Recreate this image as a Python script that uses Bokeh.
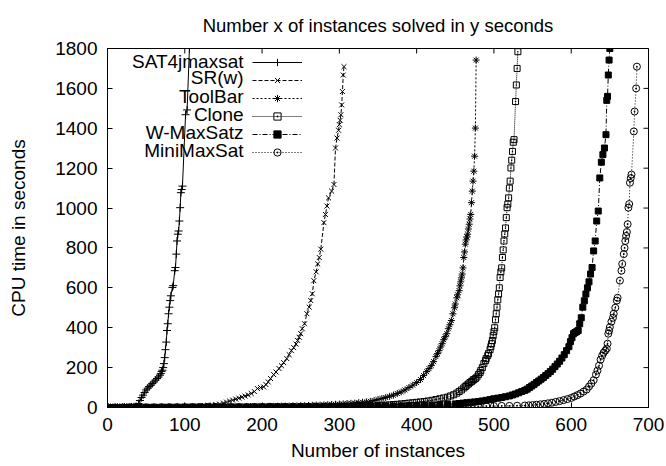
import math
from bokeh.plotting import figure
from bokeh.models import Range1d, FixedTicker, Legend, LegendItem, Label
from bokeh.core.properties import value
from bokeh.embed import file_html
from bokeh.resources import INLINE

# ---------------- data ----------------
series_names = ["SAT4jmaxsat", "SR(w)", "ToolBar", "Clone", "W-MaxSatz", "MiniMaxSat"]

x_ticks = [0, 100, 200, 300, 400, 500, 600, 700]
y_ticks = [0, 200, 400, 600, 800, 1000, 1200, 1400, 1600, 1800]

sat4j_x = [1, 4, 7, 10, 13, 16, 19, 22, 25, 28, 31, 34, 37, 40, 42, 44, 46, 48, 50, 52,
           54, 56, 58, 60, 62, 64, 66, 68, 69, 70, 71, 72, 73, 74, 75, 76, 77, 78, 79, 80,
           81, 82, 84, 85, 87, 88, 89, 90, 91, 92, 93, 94, 95, 96, 97, 101, 103, 106]
sat4j_y = [0, 0, 0, 1, 1, 1, 1, 2, 2, 2, 3, 3, 5, 20, 35, 50, 62, 75, 88, 97,
           105, 112, 120, 128, 137, 145, 153, 162, 170, 180, 187, 200, 220, 250, 290, 328, 386, 420, 470, 503,
           536, 560, 602, 611, 686, 702, 769, 835, 869, 885, 935, 1002, 1077, 1093, 1110, 1468, 1492, 1800]

srw_x = [1, 5, 10, 15, 20, 25, 30, 35, 40, 45, 50, 55, 60, 65, 70, 75, 80, 85, 90, 95,
         100, 105, 110, 115, 120, 125, 130, 135, 140, 145, 150,
         154, 158, 162, 166, 170, 174, 178, 182, 186, 190, 194, 198, 202, 205, 208, 211, 215, 218, 222,
         225, 228, 232, 235, 238, 241, 244, 246, 248, 250,
         252, 255, 258, 261, 263, 265, 267, 270, 272, 274, 276, 280, 282, 284, 286, 290, 293, 295, 297, 299,
         300, 301, 302, 303, 304, 305, 306]
srw_y = [0, 0, 0, 1, 1, 1, 1, 2, 2, 2, 2, 3, 3, 3, 3, 4, 4, 4, 5, 5,
         6, 6, 7, 8, 9, 10, 11, 12, 14, 17, 22,
         27, 32, 37, 42, 47, 52, 57, 63, 70, 80, 95, 100, 103, 115, 128, 145, 165, 178, 195,
         210, 225, 245, 265, 285, 300, 318, 336, 352, 370,
         395, 420, 470, 503, 536, 570, 636, 680, 720, 752, 794, 927, 968, 1010, 1051, 1085, 1118, 1301, 1351, 1390,
         1418, 1440, 1468, 1517, 1584, 1667, 1709]

toolbar_x = [1, 5, 10, 15, 20, 25, 30, 35, 40, 45, 50, 55, 60, 65, 70, 75, 80, 85, 90, 95,
             100, 105, 110, 115, 120, 125, 130, 135, 140, 145, 150, 155, 160, 165, 170, 175, 180, 185, 190, 195,
             200, 205, 210, 215, 220, 225, 230, 235, 240, 245, 250, 255, 260, 265, 270, 275, 280, 285, 290, 295,
             300,
             305, 310, 315, 320, 325, 330, 335, 340, 345, 350, 355, 360, 365, 370, 375, 380, 385, 390, 395, 400,
             405, 409, 413, 416, 419, 422, 425, 427, 429, 431, 433, 435, 437, 439, 441, 443, 445, 447, 449, 450,
             452, 453, 455, 456, 457, 458, 459, 460, 461, 462, 463, 464, 465, 466, 467, 468, 469, 470, 471, 472,
             473, 474, 475, 476, 477]
toolbar_y = [0, 0, 0, 0, 1, 1, 1, 1, 1, 1, 1, 1, 1, 1, 1, 2, 2, 2, 2, 2,
             2, 2, 2, 2, 2, 3, 3, 3, 3, 3, 3, 3, 4, 4, 4, 4, 4, 5, 5, 5,
             5, 5, 6, 6, 6, 7, 7, 7, 8, 8, 9, 9, 10, 11, 12, 12, 13, 14, 15, 16,
             17,
             18, 20, 21, 22, 24, 26, 28, 31, 35, 40, 45, 50, 56, 62, 70, 78, 88, 100, 112, 125,
             140, 160, 180, 195, 210, 230, 255, 270, 285, 303, 320, 340, 355, 370, 395, 415, 436, 470, 500, 519,
             550, 565, 586, 610, 630, 650, 669, 700, 752, 780, 819, 840, 855, 869, 895, 919, 945, 968, 1027, 1085,
             1135, 1185, 1260, 1401, 1742]

clone_x = [1, 10, 20, 30, 40, 50, 60, 70, 80, 90, 100, 110, 120, 130, 140, 150, 160, 170, 180, 190,
           200, 210, 220, 230, 240, 250, 260, 270, 280, 290, 300, 310, 320, 330, 340, 350,
           355, 360, 365, 370, 375, 380, 385, 390, 395, 400, 405, 410, 415, 420, 425, 430, 435, 440, 444, 448,
           452, 455, 458, 461, 463, 465, 467, 469, 471, 473, 474, 476, 478, 480, 482, 483, 485, 487, 489, 490,
           492, 493, 495, 496, 497, 498, 499, 500, 501, 502, 503, 504, 505, 506, 507, 508, 509, 510, 511, 512,
           513, 514, 515, 516, 517, 518, 519, 520, 521, 522, 523, 524, 525, 526, 528, 529, 530, 531]
clone_y = [0, 0, 0, 1, 1, 1, 1, 1, 1, 1, 1, 2, 2, 2, 2, 2, 2, 2, 2, 3,
           3, 3, 3, 3, 3, 4, 4, 4, 5, 5, 6, 6, 7, 8, 9, 10,
           11, 12, 13, 15, 16, 18, 20, 22, 24, 26, 28, 30, 33, 36, 40, 44, 48, 52, 58, 64,
           72, 80, 88, 98, 105, 112, 118, 125, 130, 137, 140, 145, 153, 165, 175, 185, 200, 220, 235, 245,
           260, 270, 290, 305, 320, 336, 360, 380, 400, 440, 470, 503, 540, 569, 600, 652, 680, 700, 752, 790,
           835, 870, 900, 952, 1002, 1020, 1051, 1100, 1135, 1201, 1240, 1284, 1330, 1343, 1534, 1617, 1700, 1784]

wmaxsatz_x = [1, 10, 20, 30, 40, 50, 60, 70, 80, 90, 100, 110, 120, 130, 140, 150, 160, 170, 180, 190,
              200, 210, 220, 230, 240, 250, 260, 270, 280, 290, 300, 310, 320, 330, 340, 350, 360, 370, 380, 390,
              400, 410, 420, 430, 440, 450,
              455, 460, 465, 470, 475, 480, 485, 490, 495, 500, 505, 510, 515, 520, 524, 528, 532, 536, 540, 543,
              546, 549, 552, 555, 558, 561, 564, 567, 570, 573, 576, 579, 582, 585, 588, 591, 594, 597, 599, 601,
              603, 605, 607, 609, 611, 613, 615, 617, 619, 621, 623, 625, 627, 629, 631, 633, 635, 637, 639, 641,
              643, 645, 646, 647, 648, 649, 650]
wmaxsatz_y = [0, 0, 0, 0, 0, 1, 1, 1, 1, 1, 1, 1, 1, 2, 2, 2, 2, 2, 2, 2,
              2, 3, 3, 3, 3, 3, 3, 4, 4, 4, 4, 5, 5, 5, 6, 6, 7, 7, 8, 9,
              10, 11, 12, 14, 16, 18,
              20, 22, 24, 26, 28, 30, 33, 36, 40, 44, 47, 50, 54, 58, 63, 68, 74, 80, 86, 92,
              100, 108, 116, 125, 133, 142, 150, 160, 170, 180, 192, 205, 218, 232, 248, 265, 285, 305, 330, 350,
              370, 376, 380, 386, 420, 450, 503, 535, 569, 600, 630, 669, 702, 785, 835, 935, 985, 1151, 1230, 1268,
              1301, 1368, 1540, 1560, 1667, 1742, 1800]

minimax_x = [1, 10, 20, 30, 40, 50, 60, 70, 80, 90, 100, 110, 120, 130, 140, 150, 160, 170, 180, 190,
             200, 210, 220, 230, 240, 250, 260, 270, 280, 290, 300, 310, 320, 330, 340, 350, 360, 370, 380, 390,
             400, 410, 420, 430, 440, 450, 460, 470, 480, 490, 500, 510, 520, 530, 540,
             545, 550, 555, 560, 565, 570, 575, 580, 585, 590, 595, 600, 604, 608, 612, 616, 620, 623, 626, 629,
             632, 634, 636, 638, 640, 642, 644, 646, 647, 648, 649, 650, 652, 654, 655, 657, 659, 660, 663, 665,
             666, 668, 669, 670, 671, 672, 673, 674, 675, 676, 677, 678, 681, 682, 684, 685]
minimax_y = [0, 0, 0, 0, 0, 0, 0, 1, 1, 1, 1, 1, 1, 1, 1, 1, 1, 1, 1, 1,
             1, 2, 2, 2, 2, 2, 2, 2, 2, 2, 2, 3, 3, 3, 3, 3, 3, 3, 4, 4,
             4, 4, 4, 5, 5, 5, 6, 6, 6, 7, 7, 8, 8, 9, 10,
             11, 12, 14, 16, 18, 21, 24, 28, 32, 37, 42, 48, 55, 62, 70, 80, 90, 105, 120, 137,
             165, 185, 210, 240, 260, 275, 285, 295, 320, 370, 385, 403, 430, 450, 470, 500, 536, 550, 636, 686,
             720, 769, 800, 835, 860, 880, 919, 1002, 1020, 1127, 1150, 1168, 1384, 1484, 1600, 1709]

# ---------------- figure ----------------
FONT = "Liberation Sans"
FS = "19px"
p = figure(width=664, height=464,
           x_range=Range1d(0, 700), y_range=Range1d(0, 1800),
           output_backend="svg", toolbar_location=None,
           min_border_left=107, min_border_right=16, min_border_top=47, min_border_bottom=57,
           title="Number x of instances solved in y seconds",
           x_axis_label="Number of instances", y_axis_label="CPU time in seconds")

p.title.text_font = FONT
p.title.text_font_size = "18.5px"
p.title.text_font_style = "normal"
p.title.align = "center"
p.title.text_color = "black"
p.title.standoff = 25

p.grid.visible = False
p.outline_line_color = "black"
p.outline_line_alpha = 1
p.outline_line_width = 1
p.background_fill_color = "white"
p.border_fill_color = "white"

p.xaxis.ticker = FixedTicker(ticks=x_ticks)
p.yaxis.ticker = FixedTicker(ticks=y_ticks)

for ax in list(p.xaxis) + list(p.yaxis):
    ax.major_tick_in = 5
    ax.major_tick_out = 0
    ax.minor_tick_line_color = None
    ax.axis_line_color = "black"
    ax.major_tick_line_color = "black"
    ax.major_label_text_font = FONT
    ax.major_label_text_font_size = FS
    ax.major_label_text_color = "black"
    ax.axis_label_text_font = FONT
    ax.axis_label_text_font_size = FS
    ax.axis_label_text_font_style = "normal"
    ax.axis_label_text_color = "black"

p.xaxis.major_label_standoff = 10
p.xaxis.axis_label_standoff = 6
p.yaxis.major_label_standoff = 10
p.yaxis.axis_label_standoff = 23

# mirror ticks on the top and right frame edges (half of each dash is clipped by the frame)
p.scatter(x=x_ticks, y=[p.y_range.end] * len(x_ticks), marker="dash", angle=math.pi / 2,
          size=10, line_color="black", line_width=1)
p.scatter(x=[p.x_range.end] * len(y_ticks), y=y_ticks, marker="dash",
          size=10, line_color="black", line_width=1)

styles = [
    dict(x=sat4j_x, y=sat4j_y, dash="solid", marker="cross", size=8, fill=None),
    dict(x=srw_x, y=srw_y, dash="4 2", marker="x", size=7, fill=None),
    dict(x=toolbar_x, y=toolbar_y, dash="2 2", marker="asterisk", size=7, fill=None),
    dict(x=clone_x, y=clone_y, dash="1 1", marker="square_dot", size=6, fill=None),
    dict(x=wmaxsatz_x, y=wmaxsatz_y, dash="5 2 1 2", marker="square", size=6, fill="black"),
    dict(x=minimax_x, y=minimax_y, dash="1 2", marker="circle_dot", size=7, fill=None),
]

items = []
for name, st in zip(series_names, styles):
    lr = p.line(st["x"], st["y"], line_color="black", line_width=1, line_dash=st["dash"])
    sr = p.scatter(st["x"], st["y"], marker=st["marker"], size=st["size"],
                   line_color="black", line_width=1, fill_color=st["fill"])
    items.append(LegendItem(label=value(" "), renderers=[lr, sr]))

legend = Legend(items=items, location=(145, 246), orientation="vertical",
                glyph_width=50, glyph_height=18, label_width=0, label_height=18,
                label_standoff=0, padding=0, margin=0, spacing=0,
                border_line_color=None, background_fill_alpha=0,
                label_text_font_size="1px")
p.add_layout(legend)

legend_rows_y = [1736, 1653, 1561, 1469, 1378, 1287]
for name, yy in zip(series_names, legend_rows_y):
    p.add_layout(Label(x=176, y=yy, text=name, text_align="right", text_baseline="middle",
                       text_font=FONT, text_font_size=FS, text_color="black"))

open("out.html", "w").write(file_html(p, INLINE))
